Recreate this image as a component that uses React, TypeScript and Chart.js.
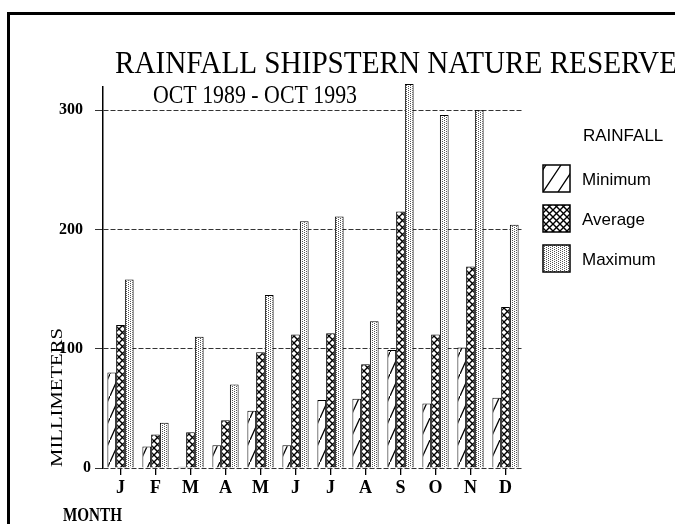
import React, { useEffect, useRef } from 'react';
import { Chart, registerables } from 'chart.js';
Chart.register(...registerables);

const months = ['J', 'F', 'M', 'A', 'M', 'J', 'J', 'A', 'S', 'O', 'N', 'D'];
const minimum = [80, 18, 1, 19, 48, 19, 57, 58, 99, 54, 101, 59];
const average = [120, 28, 30, 40, 97, 112, 113, 87, 215, 112, 169, 135];
const maximum = [158, 38, 110, 70, 145, 207, 211, 123, 322, 296, 300, 204];
const yTickValues = [0, 100, 200, 300];
const seriesNames = ['Minimum', 'Average', 'Maximum'];
const titleText = 'RAINFALL SHIPSTERN NATURE RESERVE';
const subtitleText = 'OCT 1989 - OCT 1993';
const legendTitle = 'RAINFALL';
const yAxisTitle = 'MILLIMETERS';
const xAxisTitle = 'MONTH';

const SERIF = '"Liberation Serif", "Times New Roman", serif';
const SANS = '"Liberation Sans", Arial, sans-serif';

function makeTile(w: number, h: number, draw: (c: CanvasRenderingContext2D) => void) {
  const t = document.createElement('canvas');
  t.width = w;
  t.height = h;
  const c = t.getContext('2d')!;
  c.fillStyle = '#fff';
  c.fillRect(0, 0, w, h);
  draw(c);
  return t;
}

function drawFitted(ctx: CanvasRenderingContext2D, text: string, x: number, y: number, width: number, font: string) {
  ctx.save();
  ctx.font = font;
  const m = ctx.measureText(text).width;
  const s = width / m;
  ctx.translate(x, y);
  ctx.scale(s, 1);
  ctx.textAlign = 'left';
  ctx.textBaseline = 'alphabetic';
  ctx.fillText(text, 0, 0);
  ctx.restore();
}

export default function App() {
  const ref = useRef<HTMLCanvasElement>(null);
  useEffect(() => {
    const canvas = ref.current!;
    const ctx0 = canvas.getContext('2d')!;
    const hatchTile = makeTile(10, 22, (c) => {
      c.strokeStyle = '#000';
      c.lineWidth = 1.3;
      c.beginPath();
      c.moveTo(-1, 22 + 2.2);
      c.lineTo(11, -2.2);
      c.stroke();
    });
    const crossTile = makeTile(7, 7, (c) => {
      c.strokeStyle = '#000';
      c.lineWidth = 1.4;
      c.beginPath();
      c.moveTo(-1, -1);
      c.lineTo(8, 8);
      c.moveTo(8, -1);
      c.lineTo(-1, 8);
      c.stroke();
    });
    const dotTile = makeTile(4, 4, (c) => {
      c.fillStyle = '#555';
      c.fillRect(0, 0, 1, 1);
      c.fillRect(2, 1, 1, 1);
      c.fillRect(0, 2, 1, 1);
      c.fillRect(2, 3, 1, 1);
    });
    const hatch = ctx0.createPattern(hatchTile, 'repeat')!;
    const cross = ctx0.createPattern(crossTile, 'repeat')!;
    const dots = ctx0.createPattern(dotTile, 'repeat')!;
    const fills = [hatch, cross, dots];

    const decor = {
      id: 'decor',
      afterDraw(chart: any) {
        const ctx: CanvasRenderingContext2D = chart.ctx;
        ctx.save();
        ctx.fillStyle = '#000';
        // frame
        ctx.fillRect(7, 12, 668, 3);
        ctx.fillRect(7, 12, 3, 512);
        // titles
        drawFitted(ctx, titleText, 115, 73, 562, `31px ${SERIF}`);
        drawFitted(ctx, subtitleText, 153, 103, 204, `26px ${SERIF}`);
        drawFitted(ctx, xAxisTitle, 63, 521, 59, `bold 19px ${SERIF}`);
        // y axis title rotated
        ctx.save();
        ctx.translate(62, 467);
        ctx.rotate(-Math.PI / 2);
        drawFitted(ctx, yAxisTitle, 0, 0, 139, `17px ${SERIF}`);
        ctx.restore();
        // legend
        ctx.font = `17px ${SANS}`;
        ctx.textAlign = 'left';
        ctx.textBaseline = 'alphabetic';
        ctx.fillText(legendTitle, 583, 141);
        seriesNames.forEach((name, i) => {
          const bx = 543;
          const by = 165 + i * 40;
          const bs = 27;
          ctx.save();
          ctx.beginPath();
          ctx.rect(bx, by, bs, bs);
          ctx.clip();
          if (i === 0) {
            ctx.fillStyle = '#fff';
            ctx.fillRect(bx, by, bs, bs);
            ctx.strokeStyle = '#000';
            ctx.lineWidth = 1.3;
            ctx.beginPath();
            for (let k = -1; k < 3; k++) {
              const x0 = bx + k * 15;
              ctx.moveTo(x0, by + bs);
              ctx.lineTo(x0 + 18, by);
            }
            ctx.stroke();
          } else {
            ctx.fillStyle = fills[i];
            ctx.fillRect(bx, by, bs, bs);
          }
          ctx.restore();
          ctx.strokeStyle = '#000';
          ctx.lineWidth = 1.5;
          ctx.strokeRect(bx, by, bs, bs);
          ctx.fillStyle = '#000';
          ctx.fillText(name, 582, by + 20);
        });
        ctx.restore();
      },
    };

    const chart = new Chart(canvas, {
      type: 'bar',
      data: {
        labels: months,
        datasets: [minimum, average, maximum].map((d, i) => ({
          label: seriesNames[i],
          data: d,
          backgroundColor: fills[i],
          borderColor: '#000',
          borderWidth: 1,
          categoryPercentage: 0.75,
          barPercentage: 1,
          clip: false,
        })),
      },
      options: {
        responsive: false,
        animation: false,
        devicePixelRatio: 1,
        layout: { padding: { top: 87, left: 0, right: 152, bottom: 0 } },
        plugins: { legend: { display: false }, title: { display: false }, tooltip: { enabled: false } },
        scales: {
          x: {
            grid: {
              display: true,
              drawOnChartArea: false,
              drawTicks: true,
              tickLength: 7,
              offset: false,
              color: '#000',
              lineWidth: 1.3,
            },
            border: { display: false },
            ticks: {
              color: '#000',
              padding: 3,
              autoSkip: false,
              maxRotation: 0,
              font: { family: SERIF, weight: 'bold', size: 18 },
            },
            afterFit: (s: any) => {
              s.height = 56;
            },
          },
          y: {
            min: 0,
            max: 319.5,
            afterBuildTicks: (s: any) => {
              s.ticks = yTickValues.map((v) => ({ value: v }));
            },
            grid: {
              color: '#333',
              lineWidth: 1,
              tickLength: 8,
            },
            border: { display: true, color: '#000', width: 1.5, dash: [5, 2] },
            ticks: {
              color: '#000',
              padding: 4,
              autoSkip: false,
              font: { family: SERIF, weight: 'bold', size: 16 },
              callback: (v: any) => (v === 0 ? '0' : String(v) + '\u2002'),
            },
            afterFit: (s: any) => {
              s.width = 103;
            },
          },
        },
      },
      plugins: [decor],
    } as any);
    return () => chart.destroy();
  }, []);
  return (
    <div style={{ position: 'absolute', left: 0, top: 0, width: 675, height: 524, background: '#fff' }}>
      <canvas ref={ref} width={675} height={524} />
    </div>
  );
}
